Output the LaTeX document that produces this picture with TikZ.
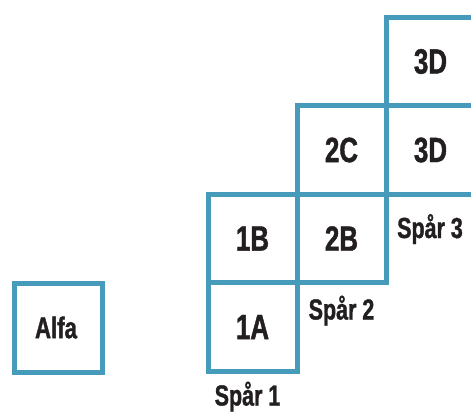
\documentclass[tikz,border=0pt]{standalone}
\usepackage{fontspec}
\newfontfamily\condfont[FakeStretch=0.74,FakeBold=1.2]{Liberation Sans Bold}
\definecolor{boxblue}{RGB}{70,155,186}
\definecolor{inkblack}{RGB}{35,31,32}
\tikzset{
  cell/.style={draw=boxblue, line width=5pt, minimum width=89pt, minimum height=88.5pt, inner sep=0pt, text=inkblack, font=\condfont\fontsize{35}{35}\selectfont},
  alfacell/.style={cell, minimum width=88pt, minimum height=89pt, font=\condfont\fontsize{30}{30}\selectfont},
  sparlabel/.style={anchor=base, inner sep=0pt, text=inkblack, font=\condfont\fontsize{29}{29}\selectfont}
}
\begin{document}
\begin{tikzpicture}[x=1pt,y=-1pt]
\clip (0,0) rectangle (471,412);
\fill[white] (0,0) rectangle (471,412);
\node[alfacell] (alfa) at (58.5,327.5) {\hspace*{-5pt}Alfa};
\node[cell] (a1) at (252.5,327) {1A};
\node[cell] (b1) at (252.5,238.5) {1B};
\node[cell] (b2) at (341.5,238.5) {2B};
\node[cell] (c2) at (341.5,150) {2C};
\node[cell] (d3low) at (430.5,150) {3D};
\node[cell] (d3up) at (430.5,61.5) {3D};
\node[sparlabel] (s1) at (247.5,405.5) {Spår 1};
\node[sparlabel] (s2) at (341.5,319.5) {Spår 2};
\node[sparlabel] (s3) at (430,238) {Spår 3};
\end{tikzpicture}
\end{document}
